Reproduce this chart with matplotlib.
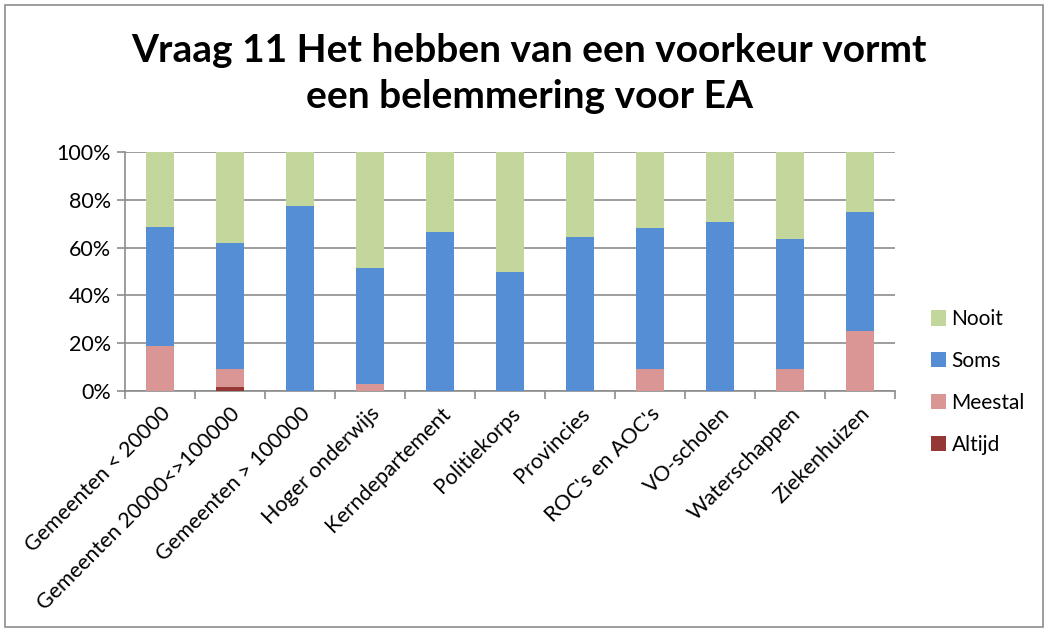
import matplotlib.pyplot as plt
import numpy as np
from matplotlib.patches import Rectangle

categories = ["Gemeenten < 20000", "Gemeenten 20000<>100000", "Gemeenten > 100000",
              "Hoger onderwijs", "Kerndepartement", "Politiekorps", "Provincies",
              "ROC's en AOC's", "VO-scholen", "Waterschappen", "Ziekenhuizen"]

altijd = [0, 1.5, 0, 0, 0, 0, 0, 0, 0, 0, 0]
meestal = [18.75, 7.5, 0, 3, 0, 0, 0, 9, 0, 9, 25]
soms = [50, 53, 77.5, 48.5, 66.7, 50, 64.3, 59, 70.8, 54.5, 50]
nooit = [31.25, 38, 22.5, 48.5, 33.3, 50, 35.7, 32, 29.2, 36.5, 25]

series_names = ["Altijd", "Meestal", "Soms", "Nooit"]
colors = ["#953735", "#D99694", "#558ED5", "#C3D69B"]

plt.rcParams['font.family'] = ['Lato', 'DejaVu Sans']

fig = plt.figure(figsize=(10.48, 6.32), dpi=100)
ax = fig.add_axes([125 / 1048, 1 - 391 / 632, 770 / 1048, 239 / 632])

x = np.arange(len(categories))
bottom = np.zeros(len(categories))
handles = []
for name, vals, col in zip(series_names, [altijd, meestal, soms, nooit], colors):
    b = ax.bar(x, vals, width=0.4, bottom=bottom, color=col, label=name, zorder=3)
    handles.append(b)
    bottom += np.array(vals)

ax.set_xlim(-0.5, len(categories) - 0.5)
ax.set_ylim(0, 100)
ax.set_yticks(range(0, 101, 20))
ax.set_yticklabels([f"{v}%" for v in range(0, 101, 20)], fontsize=15.5)
ax.yaxis.grid(True, color="#8c8c8c", linewidth=1.2, zorder=0)

ax.set_xticks(np.arange(-0.5, len(categories), 1), minor=False)
ax.set_xticklabels([])
ax.set_xticks(x, minor=True)
ax.set_xticklabels(categories, minor=True, rotation=45, ha="right",
                   rotation_mode="anchor", fontsize=15.5)
ax.tick_params(axis="x", which="minor", length=0, pad=9)
ax.tick_params(axis="x", which="major", length=6, color="#8c8c8c", width=1.2)
ax.tick_params(axis="y", length=6, color="#8c8c8c", width=1.2, pad=4)

for side in ["top", "right"]:
    ax.spines[side].set_visible(False)
for side in ["left", "bottom"]:
    ax.spines[side].set_color("#8c8c8c")
    ax.spines[side].set_linewidth(1.2)

fig.text(0.505, 1 - 50 / 632, "Vraag 11 Het hebben van een voorkeur vormt",
         ha="center", va="center", fontsize=28, fontweight="bold")
fig.text(0.505, 1 - 97 / 632, "een belemmering voor EA",
         ha="center", va="center", fontsize=28, fontweight="bold")

leg = fig.legend(handles[::-1], series_names[::-1], loc="center left",
                 bbox_to_anchor=(912 / 1048, 1 - 382 / 632), frameon=False,
                 fontsize=15, labelspacing=1.05, handlelength=0.75, handleheight=0.75,
                 handletextpad=0.25)

fig.patches.append(Rectangle((5 / 1048, 5 / 632), 1038 / 1048, 622 / 632,
                             transform=fig.transFigure, fill=False,
                             edgecolor="#8c8c8c", linewidth=1.2))

fig.savefig("out.png", dpi=100)
